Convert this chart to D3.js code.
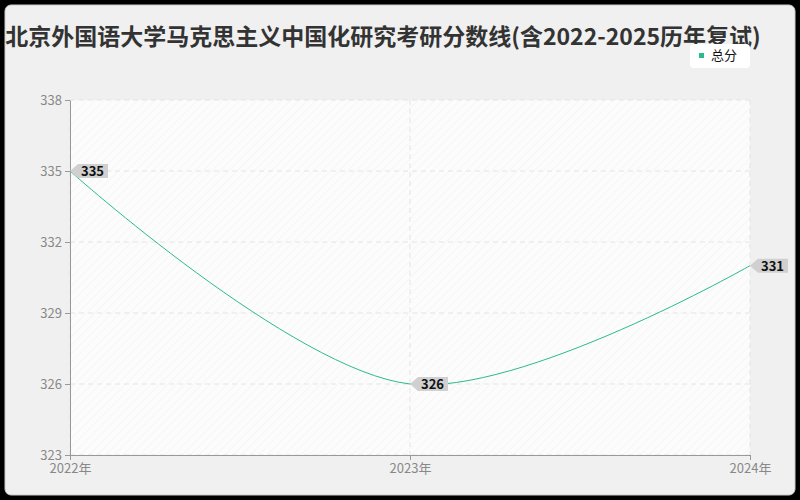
<!DOCTYPE html><html><head><meta charset="utf-8">
<script src="https://cdn.jsdelivr.net/npm/d3@7"></script>
<style>body{margin:0;background:#fff}</style></head><body>
<svg id="c" width="800" height="500"></svg>
<script>
const years=["2022年","2023年","2024年"];
const scores=[335,326,331];
const yTicks=[323,326,329,332,335,338];
const title="北京外国语大学马克思主义中国化研究考研分数线(含2022-2025历年复试)";
const seriesName="总分";
const svg=d3.select("#c");
const font="'Noto Sans CJK SC','Noto Sans',sans-serif";
svg.append("rect").attr("width",800).attr("height",500).attr("fill","#000");
svg.append("rect").attr("x",5).attr("y",5).attr("width",790).attr("height",490).attr("rx",6).attr("fill","#f0f0f0").attr("stroke","#ccc");
const m={l:70,r:750,t:100,b:455};
const x=d3.scalePoint().domain(years).range([m.l,m.r]);
const y=d3.scaleLinear().domain([323,338]).range([m.b,m.t]);
const defs=svg.append("defs");
const p=defs.append("pattern").attr("id","hatch").attr("width",6).attr("height",6).attr("patternUnits","userSpaceOnUse").attr("patternTransform","rotate(45)");
p.append("rect").attr("width",6).attr("height",6).attr("fill","#fcfcfc");
p.append("line").attr("x1",0).attr("y1",0).attr("x2",0).attr("y2",6).attr("stroke","#f0f0f0").attr("stroke-width",1);
svg.append("rect").attr("x",m.l).attr("y",m.t).attr("width",m.r-m.l).attr("height",m.b-m.t).attr("fill","url(#hatch)");
const g=svg.append("g");
yTicks.forEach(t=>{g.append("line").attr("x1",m.l).attr("x2",m.r).attr("y1",y(t)).attr("y2",y(t)).attr("stroke","#e4e4e4").attr("stroke-dasharray","5,4");});
years.forEach(t=>{g.append("line").attr("x1",x(t)).attr("x2",x(t)).attr("y1",m.t).attr("y2",m.b).attr("stroke","#e4e4e4").attr("stroke-dasharray","5,4");});
const ya=svg.append("g").attr("transform",`translate(${m.l},0)`).call(d3.axisLeft(y).tickValues(yTicks).tickSize(5).tickSizeOuter(0));
const xa=svg.append("g").attr("transform",`translate(0,${m.b})`).call(d3.axisBottom(x).tickSize(5).tickSizeOuter(0));
[ya,xa].forEach(a=>{a.selectAll("path,line").attr("stroke","#999");a.selectAll("text").attr("fill","#888").attr("font-size",13).attr("font-family",font);});
xa.selectAll("text").attr("dy","0.75em");
const data=years.map((d,i)=>({x:d,v:scores[i]}));
svg.append("path").datum(data).attr("fill","none").attr("stroke","#2bbb8b").attr("stroke-width",1)
 .attr("d",d3.line().x(d=>x(d.x)).y(d=>y(d.v)).curve(d3.curveCatmullRom.alpha(0.5)));
data.forEach(d=>{
 const px=x(d.x),py=y(d.v);
 const lg=svg.append("g").attr("transform",`translate(${px},${py})`);
 lg.append("path").attr("d","M0,0 L8,-7 L38,-7 L38,7 L8,7 Z").attr("fill","#d0d0d0");
 lg.append("text").attr("x",11).attr("y",5).attr("font-size",13).attr("font-weight","bold").attr("font-family",font).attr("fill","#111").text(d.v);
});
svg.append("text").attr("x",383).attr("y",45).attr("text-anchor","middle").attr("font-size",23).attr("font-weight","bold").attr("font-family",font).attr("fill","#333").text(title);
const lg=svg.append("g");
lg.append("rect").attr("x",690).attr("y",44).attr("width",60).attr("height",24).attr("rx",4).attr("fill","#fff");
lg.append("rect").attr("x",699).attr("y",53).attr("width",5).attr("height",5).attr("fill","#2bbb8b");
lg.append("text").attr("x",711).attr("y",60).attr("font-size",13).attr("font-family",font).attr("fill","#111").text(seriesName);
</script></body></html>
